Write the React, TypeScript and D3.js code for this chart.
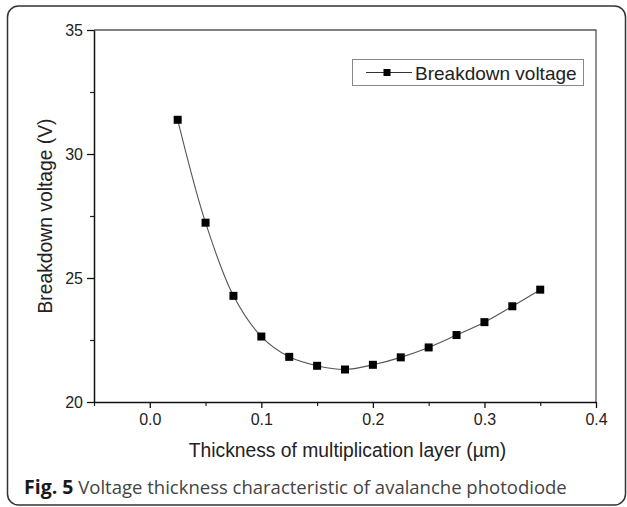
import React, { useEffect, useRef } from 'react';
import * as d3 from 'd3';

// thickness of multiplication layer (um) and breakdown voltage (V)
const thickness = [0.025, 0.05, 0.075, 0.1, 0.125, 0.15, 0.175, 0.2, 0.225, 0.25, 0.275, 0.3, 0.325, 0.35];
const voltage = [31.38, 27.23, 24.28, 22.64, 21.82, 21.46, 21.31, 21.5, 21.8, 22.2, 22.7, 23.22, 23.86, 24.53];

const xTicks = [0, 0.1, 0.2, 0.3, 0.4];
const xMinorTicks = [-0.05, 0.05, 0.15, 0.25, 0.35];
const yTicks = [20, 25, 30, 35];
const yMinorTicks = [22.5, 27.5, 32.5];

const seriesName = 'Breakdown voltage';
const xTitle = 'Thickness of multiplication layer (µm)';
const yTitle = 'Breakdown voltage (V)';
const captionBold = 'Fig. 5';
const captionText = 'Voltage thickness characteristic of avalanche photodiode';

const W = 627;
const H = 507;
const plot = { left: 94, right: 596, top: 30, bottom: 402 };
const axisFont = '"Liberation Sans", Arial, sans-serif';

const App = () => {
  const svgRef = useRef<SVGSVGElement>(null);

  useEffect(() => {
    const svg = d3.select(svgRef.current);
    svg.selectAll('*').remove();

    const x = d3.scaleLinear().domain([-0.05, 0.4]).range([plot.left, plot.right]);
    const y = d3.scaleLinear().domain([20, 35]).range([plot.bottom, plot.top]);

    // outer rounded frame
    svg.append('rect')
      .attr('x', 7.5).attr('y', 6).attr('width', 618).attr('height', 499)
      .attr('rx', 11).attr('fill', 'none').attr('stroke', '#333').attr('stroke-width', 1.5);

    // top and right frame lines
    svg.append('path')
      .attr('d', `M${plot.left},${plot.top}H${plot.right}V${plot.bottom}`)
      .attr('fill', 'none').attr('stroke', '#555').attr('stroke-width', 1.3);

    // minor ticks
    const yMinor = svg.append('g').attr('transform', `translate(${plot.left},0)`)
      .call(d3.axisLeft(y).tickValues(yMinorTicks).tickSize(4).tickFormat(() => ''));
    const xMinor = svg.append('g').attr('transform', `translate(0,${plot.bottom})`)
      .call(d3.axisBottom(x).tickValues(xMinorTicks).tickSize(4).tickFormat(() => ''));
    [yMinor, xMinor].forEach(g => {
      g.select('.domain').remove();
      g.selectAll('line').attr('stroke', '#222').attr('stroke-width', 1.2);
    });

    // major axes
    const yAxis = svg.append('g').attr('transform', `translate(${plot.left},0)`)
      .call(d3.axisLeft(y).tickValues(yTicks).tickSize(7).tickSizeOuter(0).tickPadding(4));
    const xAxis = svg.append('g').attr('transform', `translate(0,${plot.bottom})`)
      .call(d3.axisBottom(x).tickValues(xTicks).tickSize(6).tickSizeOuter(0).tickPadding(6).tickFormat(d3.format('.1f')));
    [yAxis, xAxis].forEach(g => {
      g.select('.domain').attr('stroke', '#111').attr('stroke-width', 1.5);
      g.selectAll('line').attr('stroke', '#111').attr('stroke-width', 1.3);
      g.selectAll('text').attr('font-family', axisFont).attr('font-size', 16).attr('fill', '#222');
    });

    // series
    const pts = thickness.map((t, i) => [t, voltage[i]] as [number, number]);
    const line = d3.line<[number, number]>()
      .x(d => x(d[0])).y(d => y(d[1]))
      .curve(d3.curveCatmullRom.alpha(0.5));
    svg.append('path').attr('d', line(pts) || '')
      .attr('fill', 'none').attr('stroke', '#555').attr('stroke-width', 1.1);

    const ms = 8;
    svg.append('g').selectAll('rect').data(pts).enter().append('rect')
      .attr('x', d => x(d[0]) - ms / 2).attr('y', d => y(d[1]) - ms / 2)
      .attr('width', ms).attr('height', ms).attr('fill', '#000');

    // legend
    const lg = svg.append('g');
    lg.append('rect').attr('x', 352.5).attr('y', 59.5).attr('width', 231).attr('height', 26)
      .attr('fill', '#fff').attr('stroke', '#888').attr('stroke-width', 1);
    lg.append('line').attr('x1', 366).attr('x2', 412).attr('y1', 72.5).attr('y2', 72.5)
      .attr('stroke', '#333').attr('stroke-width', 1.1);
    lg.append('rect').attr('x', 387 - 3.5).attr('y', 72.5 - 3.5).attr('width', 7).attr('height', 7).attr('fill', '#000');
    lg.append('text').attr('x', 415).attr('y', 79.5).text(seriesName)
      .attr('font-family', axisFont).attr('font-size', 19).attr('fill', '#222');

    // axis titles
    svg.append('text').attr('x', (190 + 505) / 2).attr('y', 457).attr('text-anchor', 'middle')
      .attr('font-family', axisFont).attr('font-size', 19.3).attr('fill', '#222').text(xTitle);
    svg.append('text').attr('transform', `translate(52,${(plot.top + plot.bottom) / 2}) rotate(-90)`)
      .attr('text-anchor', 'middle')
      .attr('font-family', axisFont).attr('font-size', 19.3).attr('fill', '#222').text(yTitle);

    // caption
    const cap = svg.append('text').attr('x', 24).attr('y', 494)
      .attr('font-family', '"Open Sans", sans-serif');
    cap.append('tspan').attr('font-weight', 'bold').attr('font-size', 19.5).attr('fill', '#1a1a1a').text(captionBold);
    cap.append('tspan').attr('font-size', 18.5).attr('fill', '#444').text(' ' + captionText);
  }, []);

  return (
    <svg ref={svgRef} width={W} height={H}
      style={{ position: 'absolute', left: 0, top: 0, display: 'block', background: '#fff' }} />
  );
};

export default App;
